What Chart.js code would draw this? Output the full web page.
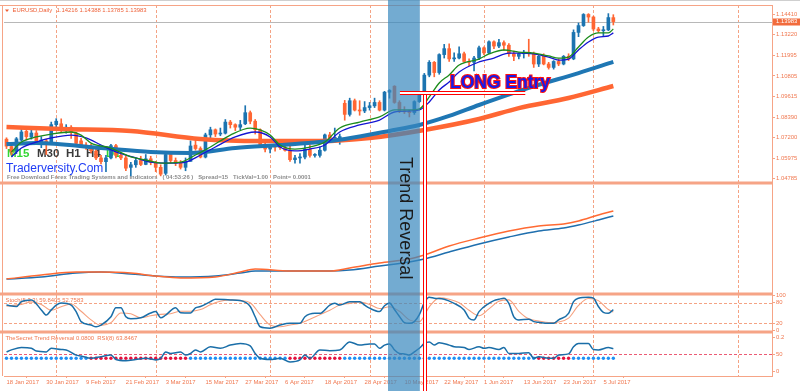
<!DOCTYPE html>
<html>
<head>
<meta charset="utf-8">
<title>EURUSD Daily - Trend Reversal</title>
<script src="https://cdn.jsdelivr.net/npm/chart.js@4.4.1/dist/chart.umd.min.js"></script>
<style>
  html, body { margin: 0; padding: 0; background: #fff; }
  canvas { display: block; }
</style>
</head>
<body>
<canvas id="chart" width="800" height="391"></canvas>
<script>
// ---- data: EURUSD daily, 18 Jan 2017 .. 7 Jul 2017 (bar index 0..122) ----
const tickIdx = [0, 8, 16, 24, 32, 40, 48, 56, 64, 72, 80, 88, 96, 104, 112, 120];
const tickLabels = ['18 Jan 2017', '30 Jan 2017', '9 Feb 2017', '21 Feb 2017', '3 Mar 2017', '15 Mar 2017',
  '27 Mar 2017', '6 Apr 2017', '18 Apr 2017', '28 Apr 2017', '10 May 2017', '22 May 2017',
  '1 Jun 2017', '13 Jun 2017', '23 Jun 2017', '5 Jul 2017'];
const gridDays = [10, 30, 53, 73, 96, 118, 147];

const priceTicks = [1.14410, 1.13220, 1.11995, 1.10805, 1.09615, 1.08390, 1.07200, 1.05975, 1.04785];
const stochTicks = [100, 80, 20, 0];
const stochLevels = [80, 20];
const lowerTicks = [93, 50, 7];
const lowerTickLabels = ['0.2', '50', '0'];
const rsiLevel = 50;

const opens = [1.0710,1.0667,1.0640,1.0705,1.0756,1.0722,1.0746,1.0680,1.0700,1.0692,
  1.0795,1.0800,1.0762,1.0780,1.0745,1.0700,1.0675,1.0662,1.0640,1.0600,
  1.0578,1.0600,1.0672,1.0615,1.0600,1.0545,1.0560,1.0585,1.0562,1.0595,
  1.0575,1.0545,1.0510,1.0620,1.0585,1.0570,1.0545,1.0580,1.0675,1.0655,
  1.0605,1.0735,1.0765,1.0740,1.0745,1.0810,1.0795,1.0780,1.0800,1.0865,
  1.0815,1.0765,1.0675,1.0652,1.0668,1.0665,1.0660,1.0645,1.0590,1.0600,
  1.0605,1.0650,1.0615,1.0615,1.0645,1.0735,1.0715,1.0718,1.0920,1.0855,
  1.0935,1.0880,1.0875,1.0895,1.0905,1.0925,1.0880,1.0985,1.1020,1.0925,
  1.0875,1.0870,1.0865,1.0930,1.0980,1.1085,1.1160,1.1100,1.1205,1.1240,
  1.1180,1.1185,1.1210,1.1165,1.1160,1.1185,1.1245,1.1215,1.1280,1.1255,
  1.1275,1.1260,1.1210,1.1195,1.1210,1.1215,1.1212,1.1150,1.1195,1.1150,
  1.1130,1.1165,1.1150,1.1195,1.1180,1.1335,1.1375,1.1440,1.1425,1.1355,
  1.1345,1.1350,1.14216];
const highs = [1.0718,1.0680,1.0720,1.0776,1.0770,1.0775,1.0760,1.0725,1.0710,1.0810,
  1.0830,1.0829,1.0795,1.0790,1.0750,1.0715,1.0690,1.0680,1.0660,1.0615,
  1.0615,1.0680,1.0680,1.0630,1.0610,1.0575,1.0600,1.0610,1.0620,1.0610,
  1.0580,1.0560,1.0630,1.0625,1.0600,1.0585,1.0600,1.0700,1.0715,1.0665,
  1.0745,1.0780,1.0770,1.0775,1.0825,1.0820,1.0800,1.0820,1.0906,1.0875,
  1.0825,1.0770,1.0690,1.0680,1.0680,1.0700,1.0685,1.0670,1.0615,1.0625,
  1.0680,1.0675,1.0625,1.0665,1.0740,1.0750,1.0775,1.0740,1.0937,1.0950,
  1.0945,1.0935,1.0930,1.0925,1.0950,1.0935,1.0990,1.1000,1.1023,1.0935,
  1.0900,1.0880,1.0935,1.0985,1.1095,1.1170,1.1165,1.1210,1.1265,1.1268,
  1.1215,1.1250,1.1220,1.1180,1.1195,1.1255,1.1250,1.1285,1.1285,1.1295,
  1.1285,1.1270,1.1225,1.1215,1.1230,1.1295,1.1220,1.1200,1.1210,1.1160,
  1.1170,1.1180,1.1200,1.1210,1.1350,1.1390,1.1445,1.1445,1.1430,1.1365,
  1.1370,1.1445,1.14388];
const lows = [1.0655,1.0618,1.0625,1.0700,1.0705,1.0710,1.0680,1.0660,1.0620,1.0680,
  1.0770,1.0750,1.0745,1.0715,1.0675,1.0660,1.0650,1.0630,1.0590,1.0565,
  1.0520,1.0595,1.0600,1.0590,1.0525,1.0495,1.0545,1.0555,1.0560,1.0560,
  1.0520,1.0495,1.0500,1.0570,1.0555,1.0535,1.0525,1.0580,1.0645,1.0600,
  1.0600,1.0705,1.0725,1.0730,1.0740,1.0775,1.0760,1.0765,1.0795,1.0800,
  1.0740,1.0670,1.0635,1.0630,1.0640,1.0650,1.0640,1.0580,1.0570,1.0570,
  1.0595,1.0605,1.0605,1.0605,1.0640,1.0700,1.0695,1.0680,1.0821,1.0845,
  1.0875,1.0850,1.0865,1.0880,1.0895,1.0875,1.0875,1.0950,1.0920,1.0865,
  1.0860,1.0840,1.0855,1.0925,1.0975,1.1075,1.1075,1.1090,1.1185,1.1165,
  1.1165,1.1180,1.1160,1.1140,1.1110,1.1175,1.1205,1.1210,1.1240,1.1245,
  1.1230,1.1195,1.1170,1.1180,1.1185,1.1195,1.1130,1.1135,1.1145,1.1120,
  1.1120,1.1140,1.1145,1.1170,1.1175,1.1310,1.1370,1.1395,1.1345,1.1335,
  1.1310,1.1345,1.13785];
const closes = [1.0669,1.0635,1.0712,1.0752,1.0725,1.0746,1.0685,1.0705,1.0690,1.0795,
  1.0815,1.0765,1.0780,1.0750,1.0685,1.0675,1.0660,1.0642,1.0600,1.0578,
  1.0600,1.0672,1.0615,1.0600,1.0540,1.0560,1.0585,1.0562,1.0595,1.0575,
  1.0545,1.0505,1.0620,1.0585,1.0570,1.0545,1.0580,1.0670,1.0655,1.0605,
  1.0735,1.0765,1.0740,1.0745,1.0810,1.0795,1.0780,1.0795,1.0865,1.0815,
  1.0765,1.0675,1.0652,1.0668,1.0665,1.0660,1.0645,1.0590,1.0600,1.0605,
  1.0650,1.0615,1.0615,1.0645,1.0735,1.0715,1.0718,1.0725,1.0855,1.0935,
  1.0880,1.0875,1.0895,1.0905,1.0925,1.0880,1.0985,1.0995,1.0925,1.0875,
  1.0870,1.0865,1.0930,1.0980,1.1085,1.1160,1.1100,1.1205,1.1240,1.1180,
  1.1185,1.1210,1.1165,1.1160,1.1185,1.1245,1.1215,1.1280,1.1255,1.1275,
  1.1260,1.1210,1.1195,1.1210,1.1215,1.1212,1.1150,1.1195,1.1150,1.1130,
  1.1165,1.1150,1.1195,1.1180,1.1335,1.1375,1.1440,1.1425,1.1355,1.1345,
  1.1350,1.1422,1.13983];

// moving averages on price, [bar, price]
const maSlow = [[0,1.0781],[11,1.0769],[25,1.0758],[39,1.0711],[51,1.0699],[63,1.0699],[73,1.0717],
  [84,1.0764],[95,1.0828],[103,1.0892],[113,1.0951],[122,1.1021]];
const maMid = [[0,1.0681],[6,1.0687],[19,1.0658],[29,1.0635],[37,1.0629],[46,1.0658],[55,1.0676],
  [63,1.0693],[68,1.0711],[77,1.0758],[83,1.0793],[89,1.0846],[95,1.0910],[105,1.1010],[115,1.1097],[122,1.1162]];
const maFastGreen = [[1,1.0635],[3,1.0693],[6,1.0723],[9,1.0740],[13,1.0752],[15,1.0734],[17,1.0687],
  [21,1.0658],[25,1.0606],[28,1.0588],[31,1.0570],[35,1.0576],[38,1.0617],[41,1.0664],[45,1.0734],
  [49,1.0775],[51,1.0764],[53,1.0734],[55,1.0676],[58,1.0652],[61,1.0664],[64,1.0693],[67,1.0775],
  [71,1.0810],[75,1.0840],[78,1.0881],[81,1.0881],[83,1.0887],[85,1.0957],[87,1.1039],[89,1.1086],
  [91,1.1144],[95,1.1179],[97,1.1209],[100,1.1232],[103,1.1220],[106,1.1214],[109,1.1197],[111,1.1185],
  [113,1.1191],[115,1.1250],[117,1.1308],[119,1.1332],[121,1.1332],[122,1.1355]];
const maFastBlue = [[1,1.0606],[3,1.0658],[6,1.0693],[9,1.0717],[13,1.0734],[16,1.0717],[19,1.0676],
  [22,1.0635],[26,1.0600],[29,1.0576],[33,1.0570],[36,1.0576],[39,1.0617],[42,1.0664],[46,1.0723],
  [50,1.0752],[53,1.0723],[55,1.0664],[58,1.0641],[61,1.0652],[64,1.0676],[67,1.0752],[71,1.0793],
  [75,1.0822],[78,1.0869],[81,1.0875],[83,1.0881],[85,1.0928],[87,1.0998],[89,1.1045],[91,1.1103],
  [95,1.1162],[98,1.1185],[101,1.1214],[103,1.1214],[106,1.1209],[109,1.1191],[111,1.1173],[113,1.1179],
  [115,1.1232],[117,1.1279],[119,1.1308],[121,1.1314],[122,1.1332]];

// second window (unlabelled indicator pair)
const panelOrange = [[0,13],[7,17],[14,20],[19,20],[25,19],[30,16],[35,14],[42,15],[47,20],[50,23],
  [57,21],[65,21],[69,24],[75,29],[81,33],[84,37],[89,46],[95,54],[101,61],[107,66],[112,68],
  [115,71],[119,77],[122,81]];
const panelBlue = [[0,13],[7,15],[14,19],[19,20],[25,18],[30,16],[35,15],[42,16],[47,19],[50,21],
  [57,21],[65,21],[69,22],[75,26],[81,30],[84,33],[89,40],[95,48],[101,55],[107,61],[112,64],
  [115,67],[119,72],[122,76]];

// Stoch(5,3,3)
const stochK = [[0,73],[2,69],[3,83],[5,88],[7,59],[8,44],[9,59],[10,73],[11,79],[13,73],[14,54],
  [15,25],[17,15],[18,10],[19,15],[21,39],[22,65],[23,65],[24,39],[25,33],[27,36],[29,50],[30,54],
  [31,36],[32,44],[34,65],[35,51],[37,50],[38,65],[39,69],[41,83],[42,90],[45,88],[47,86],[49,69],
  [50,39],[51,10],[53,6],[55,15],[57,20],[59,20],[60,39],[62,49],[63,49],[65,73],[66,78],[67,73],
  [69,83],[71,83],[72,73],[73,64],[75,54],[76,71],[77,79],[78,60],[79,40],[80,22],[81,20],[82,25],
  [83,45],[84,80],[85,96],[86,93],[88,90],[90,78],[92,59],[93,35],[94,30],[95,54],[97,78],[98,86],
  [99,90],[100,93],[101,78],[102,39],[103,30],[105,32],[106,25],[107,23],[109,20],[110,20],[111,30],
  [113,49],[114,83],[115,93],[117,96],[118,93],[119,69],[120,52],[121,49],[122,60]];
const stochD = [[0,70],[3,75],[5,82],[7,75],[9,58],[11,68],[13,76],[15,55],[17,30],[19,14],[21,22],
  [23,50],[25,48],[27,36],[29,42],[31,46],[33,48],[35,55],[37,55],[39,60],[41,74],[43,84],[45,88],
  [47,86],[49,80],[51,45],[53,15],[55,10],[57,15],[59,20],[61,32],[63,45],[65,58],[67,73],[69,78],
  [71,82],[73,75],[75,63],[77,68],[79,55],[81,30],[83,25],[85,68],[87,94],[89,90],[91,80],[93,58],
  [95,42],[97,62],[99,84],[101,88],[103,55],[105,33],[107,27],[109,22],[111,24],[113,35],[115,72],
  [117,92],[119,86],[121,60],[122,53]];

// RSI(8) and TheSecret Trend Reversal dots
const rsi = [[0,56],[1,61],[3,67],[5,65],[6,58],[8,56],[9,65],[11,62],[12,61],[14,48],[15,46],[17,40],
  [19,44],[21,48],[22,37],[24,34],[26,37],[28,40],[30,36],[31,40],[32,56],[33,52],[35,56],[36,48],
  [37,52],[38,61],[39,56],[41,69],[43,65],[45,73],[47,77],[49,71],[50,52],[51,40],[53,37],[55,40],
  [57,31],[59,36],[60,48],[61,40],[63,61],[65,59],[67,61],[69,81],[71,73],[73,76],[74,76],[75,65],
  [76,73],[77,76],[78,61],[79,52],[80,51],[81,48],[82,56],[83,65],[84,77],[85,81],[86,73],[87,79],
  [89,73],[90,69],[92,67],[93,62],[95,69],[96,65],[97,67],[99,62],[100,67],[101,52],[103,52],
  [105,54],[106,40],[107,44],[109,40],[110,40],[111,48],[113,51],[114,69],[115,77],[117,77],
  [118,62],[119,61],[121,67],[122,64]];
const sellRuns = [[17, 36], [57, 67], [107, 113]];
const dotLevel = 40;

// annotations (bar positions / price)
const reversalBand = [76.7, 83.1];
const entryBar = 84.2;
const entryPrice = 1.0980;
const entryLineSpan = [79.1, 104.3];

// ---- styles ----
const BULL = '#1c74b0', BEAR = '#ff6633';
const FRAME = '#f6a486', AXIS_TXT = '#f07850', GRID = '#f4a384';
const FONT = "'Liberation Sans', Arial, sans-serif";

Chart.defaults.font.family = FONT;
Chart.defaults.font.size = 5.9;
Chart.defaults.color = AXIS_TXT;

const isUp = i => closes[i] >= opens[i];
const isSell = i => sellRuns.some(([a, b]) => i >= a && i <= b);

function panelAxis(weight, min, max, values, labelFor) {
    return {
        type: 'linear', position: 'right', stack: 'mt4', stackWeight: weight, min, max, offset: false,
        afterFit: s => { s.width = 28; },
        afterBuildTicks: s => { s.ticks = values.map(v => ({ value: v })); },
        border: { color: FRAME },
        grid: { drawOnChartArea: false, color: FRAME, tickLength: 3 },
        ticks: { padding: 1, autoSkip: false, callback: labelFor }
    };
}

const line = (data, color, width, axis, order) => ({
    type: 'line', data, yAxisID: axis, borderColor: color, borderWidth: width,
    pointRadius: 0, cubicInterpolationMode: 'monotone', fill: false, order
});

function hline(ctx, x0, x1, y) { ctx.beginPath(); ctx.moveTo(x0, y); ctx.lineTo(x1, y); ctx.stroke(); }
function vline(ctx, x, y0, y1) { ctx.beginPath(); ctx.moveTo(x, y0); ctx.lineTo(x, y1); ctx.stroke(); }

const mt4Decor = {
    id: 'mt4Decor',
    beforeDatasetsDraw(chart) {
        const { ctx, chartArea: a } = chart;
        const { x, y, y3, y4 } = chart.scales;
        ctx.save();
        ctx.lineWidth = 1;
        ctx.strokeStyle = GRID;
        ctx.setLineDash([3, 2]);
        gridDays.forEach(d => vline(ctx, Math.round(x.getPixelForValue(d)) + 0.5, a.top, a.bottom));
        stochLevels.forEach(v => hline(ctx, a.left, a.right, Math.round(y3.getPixelForValue(v)) + 0.5));
        ctx.strokeStyle = '#ec5a74';
        hline(ctx, a.left, a.right, Math.round(y4.getPixelForValue(rsiLevel)) + 0.5);
        ctx.setLineDash([]);

        // bid line
        ctx.strokeStyle = '#b8b8b8';
        hline(ctx, a.left, a.right, Math.round(y.getPixelForValue(closes[closes.length - 1])) + 0.5);

        // window header
        ctx.fillStyle = '#ee5f36';
        ctx.beginPath(); ctx.moveTo(5, 9.5); ctx.lineTo(9, 9.5); ctx.lineTo(7, 12); ctx.closePath(); ctx.fill();
        ctx.font = `5.9px ${FONT}`;
        ctx.textBaseline = 'alphabetic';
        ctx.fillText('EURUSD,Daily', 12.5, 12.3);
        ctx.fillText('1.14216 1.14388 1.13785 1.13983', 56.5, 12.3);

        // watermark texts under the candles
        ctx.font = `bold 11.5px ${FONT}`;
        [['M15', 7, '#33d633'], ['M30', 37, '#3a3a3a'], ['H1', 66, '#3a3a3a'], ['H4', 86, '#3a3a3a'], ['D1', 106, '#33d633']]
            .forEach(([t, px, c]) => { ctx.fillStyle = c; ctx.fillText(t, px, 157); });
        ctx.fillStyle = '#1f3cf5';
        ctx.font = `12px ${FONT}`;
        ctx.fillText('Traderversity.Com', 6, 171.5);
        ctx.fillStyle = '#8c8c8c';
        ctx.font = `bold 5.9px ${FONT}`;
        ctx.fillText('Free Download Forex Trading Systems and Indicators   ( 04:53:26 )   Spread=15   TickVal=1.00   Point= 0.0001', 7, 178.5);

        // sub-window headers
        ctx.fillStyle = AXIS_TXT;
        ctx.font = `5.9px ${FONT}`;
        ctx.fillText('Stoch(5,3,3) 59.8405 52.7583', 5.5, y3.top + 8);
        ctx.fillText('TheSecret Trend Reversal 0.0800  RSI(8) 63.8467', 5.5, y4.top + 8);
        ctx.restore();
    },
    afterDraw(chart) {
        const { ctx, chartArea: a } = chart;
        const { x, y, y2, y3 } = chart.scales;
        ctx.save();

        // window frames and separators
        ctx.fillStyle = FRAME;
        [y.bottom, y2.bottom, y3.bottom].forEach(b => ctx.fillRect(0, b - 1.5, a.right, 3));
        ctx.strokeStyle = FRAME;
        ctx.lineWidth = 1;
        hline(ctx, 0, a.right, a.top + 0.5);
        vline(ctx, 2.5, a.top, a.bottom);
        ctx.strokeStyle = '#cfcfcf';
        hline(ctx, 0, chart.width, 0.5);

        // current price tag
        const bid = closes[closes.length - 1];
        const by = y.getPixelForValue(bid);
        ctx.fillStyle = '#f26b3c';
        ctx.fillRect(a.right + 1, Math.round(by) - 3.5, 27, 7);
        ctx.fillStyle = '#fff';
        ctx.font = `5.9px ${FONT}`;
        ctx.textBaseline = 'middle';
        ctx.fillText(bid.toFixed(5), a.right + 4, by);

        // trend reversal band
        const b0 = x.getPixelForValue(reversalBand[0]);
        const b1 = x.getPixelForValue(reversalBand[1]);
        ctx.fillStyle = 'rgba(55,136,190,0.7)';
        ctx.fillRect(b0, 0, b1 - b0, chart.height);

        // entry marker: double red lines
        const ex = Math.round(x.getPixelForValue(entryBar));
        const ey = Math.round(y.getPixelForValue(entryPrice));
        const hx0 = x.getPixelForValue(entryLineSpan[0]);
        const hx1 = x.getPixelForValue(entryLineSpan[1]);
        ctx.fillStyle = '#fff';
        ctx.fillRect(hx0, ey - 1, hx1 - hx0, 2);
        ctx.fillRect(ex - 1, ey, 2, chart.height - ey);
        ctx.strokeStyle = '#ff0000';
        hline(ctx, hx0, hx1, ey - 1.5);
        hline(ctx, hx0, hx1, ey + 1.5);
        vline(ctx, ex - 1.5, ey + 1.5, chart.height);
        vline(ctx, ex + 1.5, ey + 1.5, chart.height);

        // labels
        ctx.textBaseline = 'alphabetic';
        ctx.font = `bold 17.5px ${FONT}`;
        ctx.lineWidth = 2;
        ctx.strokeStyle = '#ff1010';
        ctx.strokeText('LONG Entry', hx0 + 50, ey - 5);
        ctx.fillStyle = '#1a1ae6';
        ctx.fillText('LONG Entry', hx0 + 50, ey - 5);

        ctx.translate(b0 + 12, 157);
        ctx.rotate(Math.PI / 2);
        ctx.fillStyle = '#1b1b1b';
        ctx.font = `18px ${FONT}`;
        ctx.fillText('Trend Reversal', 0, 0);
        ctx.restore();
    }
};

new Chart(document.getElementById('chart'), {
    data: {
        datasets: [
            {
                type: 'bar', label: 'wicks', order: 10, grouped: false, barThickness: 1, minBarLength: 1,
                data: opens.map((o, i) => ({ x: i, y: [lows[i], highs[i]] })),
                backgroundColor: c => isUp(c.dataIndex) ? BULL : BEAR, borderWidth: 0
            },
            {
                type: 'bar', label: 'bodies', order: 9, grouped: false, barThickness: 3, minBarLength: 1,
                data: opens.map((o, i) => ({ x: i, y: [o, closes[i]] })),
                backgroundColor: c => isUp(c.dataIndex) ? BULL : BEAR, borderWidth: 0
            },
            line(maSlow, '#ff6633', 4.5, 'y', 6),
            line(maMid, '#1f77b4', 4, 'y', 5),
            line(maFastBlue, '#1414d2', 1.3, 'y', 4),
            line(maFastGreen, '#1c8c1c', 1.3, 'y', 3),
            line(panelBlue, '#1f6fae', 1.5, 'y2', 2),
            line(panelOrange, '#ff6a33', 1.5, 'y2', 1),
            line(stochD, '#f6a07e', 1.1, 'y3', 2),
            line(stochK, '#1a6ea8', 1.5, 'y3', 1),
            {
                type: 'scatter', order: 2, yAxisID: 'y4',
                data: closes.map((c, i) => ({ x: i, y: dotLevel })),
                pointRadius: 1.7, pointBorderWidth: 0,
                pointBackgroundColor: c => isSell(c.dataIndex) ? '#e4103e' : '#1e8ff5'
            },
            line(rsi, '#1a6ea8', 1.5, 'y4', 1)
        ]
    },
    options: {
        responsive: false,
        animation: false,
        devicePixelRatio: 1,
        events: [],
        layout: { padding: { top: 5, left: 0, right: 0, bottom: 0 } },
        plugins: { legend: { display: false }, tooltip: { enabled: false } },
        scales: {
            x: {
                type: 'linear', min: -0.5, max: 153.9, offset: false,
                afterFit: s => { s.height = 15; },
                afterBuildTicks: s => { s.ticks = tickIdx.map(v => ({ value: v })); },
                border: { color: FRAME },
                grid: { drawOnChartArea: false, color: FRAME, tickLength: 2 },
                ticks: {
                    align: 'start', padding: 1, maxRotation: 0, minRotation: 0, autoSkip: false,
                    callback: v => tickLabels[tickIdx.indexOf(v)] || ''
                }
            },
            y: panelAxis(178, 1.04533, 1.14955, priceTicks, v => v.toFixed(5)),
            y2: Object.assign(panelAxis(111, -2, 109, [], () => ''), { ticks: { display: false }, grid: { display: false } }),
            y3: panelAxis(38, -5.2, 105.2, stochTicks, v => String(v)),
            y4: panelAxis(44, -4.25, 105.75, lowerTicks, v => lowerTickLabels[lowerTicks.indexOf(v)])
        }
    },
    plugins: [mt4Decor]
});
</script>
</body>
</html>
